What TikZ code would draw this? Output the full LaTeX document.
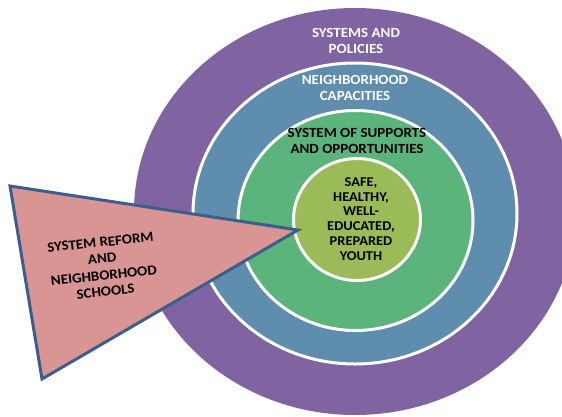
\documentclass[tikz,border=0pt]{standalone}
\usepackage{fontspec}
\setmainfont{Carlito}[FakeStretch=1.07]
\definecolor{ringpurple}{HTML}{8064A2}
\definecolor{ringblue}{HTML}{5F8DAD}
\definecolor{ringgreen}{HTML}{5BB47B}
\definecolor{coreolive}{HTML}{9BBB59}
\definecolor{wedgefill}{HTML}{D99594}
\definecolor{wedgeline}{HTML}{3B5E8C}
\begin{document}
\begin{tikzpicture}[x=1pt,y=-1pt,
  lbl/.style={font=\fontsize{14}{16}\selectfont\bfseries, align=center, inner sep=0pt},
  ring/.style={draw=white, line width=3pt},
  wedge/.style={fill=wedgefill, draw=wedgeline, line width=3pt, line join=miter}]
\useasboundingbox (0,0) rectangle (562,416);
\clip (0,0) rectangle (562,416);
\fill[ringpurple] (355,211.5) ellipse [x radius=221pt, y radius=203.5pt];
\filldraw[ring, fill=ringblue] (355,213.5) ellipse [x radius=162pt, y radius=150.5pt];
\filldraw[ring, fill=ringgreen] (355.5,220.5) ellipse [x radius=117.5pt, y radius=110pt];
\filldraw[ring, fill=coreolive] (357,219.5) ellipse [x radius=63.5pt, y radius=61pt];
\node[lbl, text=white] (policies) at (356,41) {SYSTEMS AND\\POLICIES};
\node[lbl, text=white] (capacities) at (355,87.5) {NEIGHBORHOOD\\CAPACITIES};
\node[lbl, text=black] (supports) at (357,141) {SYSTEM OF SUPPORTS\\AND OPPORTUNITIES};
\node[lbl, text=black, font=\fontsize{13.5}{14.8}\selectfont\bfseries] (youth) at (361,219) {SAFE,\\HEALTHY,\\WELL-\\EDUCATED,\\PREPARED\\YOUTH};
\coordinate (w1) at (10,186);
\coordinate (w2) at (298,230);
\coordinate (w3) at (42,379);
\filldraw[wedge] (w1) -- (w2) -- (w3) -- cycle;
\node[lbl, text=black, rotate=6, font=\fontsize{14}{16.5}\selectfont\bfseries] (reform) at (103,267) {SYSTEM REFORM\\AND\\NEIGHBORHOOD\\SCHOOLS};
\end{tikzpicture}
\end{document}
